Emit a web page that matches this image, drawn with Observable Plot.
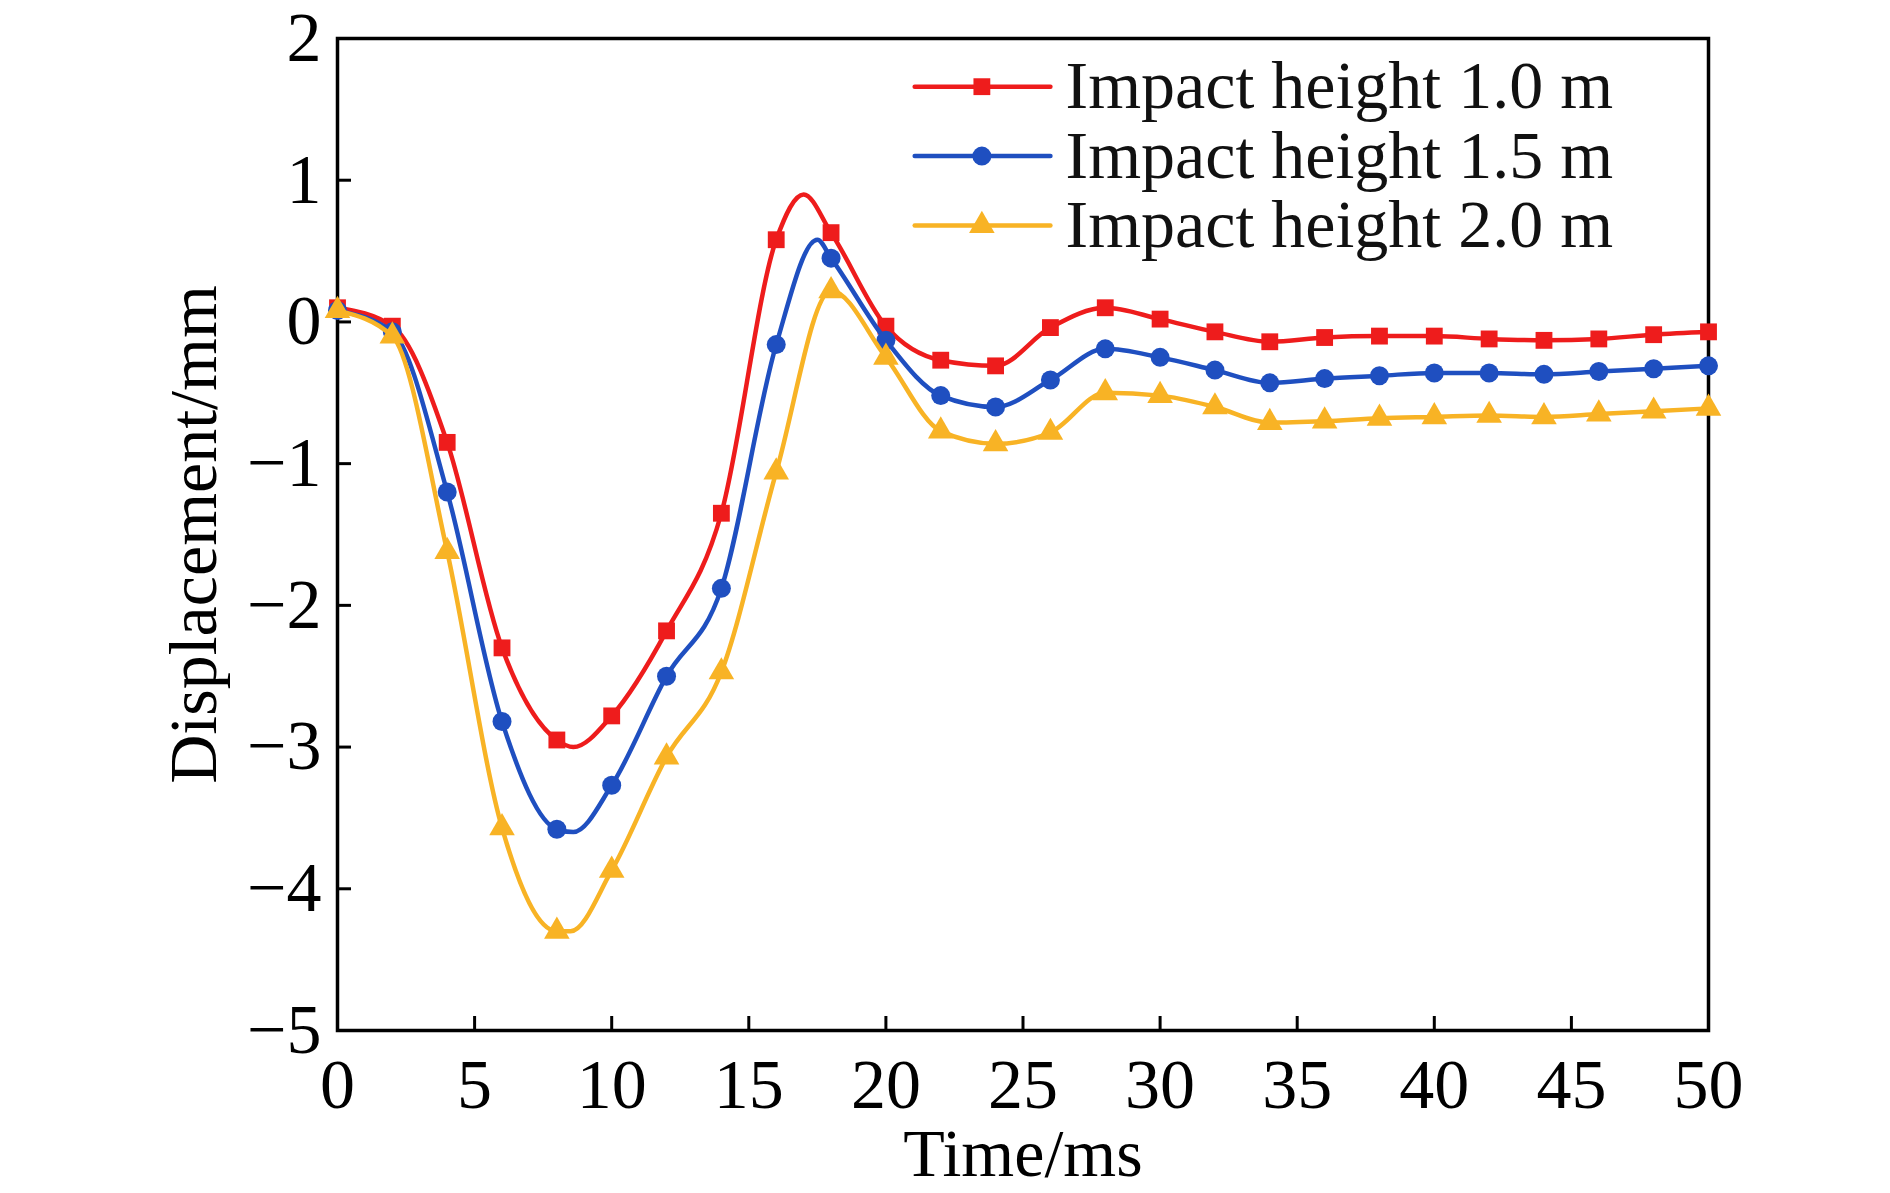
<!DOCTYPE html>
<html><head><meta charset="utf-8">
<script src="https://cdn.jsdelivr.net/npm/d3@7"></script>
<script src="https://cdn.jsdelivr.net/npm/@observablehq/plot@0.6"></script>
<style>body{margin:0;background:#fff}</style>
</head><body><div id="c"></div>
<script>
const times = [0,2,4,6,8,10,12,14,16,18,20,22,24,26,28,30,32,34,36,38,40,42,44,46,48,50];
const h10 = [0.1,-0.03,-0.85,-2.3,-2.95,-2.78,-2.18,-1.35,0.58,0.63,-0.03,-0.27,-0.31,-0.04,0.1,0.02,-0.07,-0.14,-0.11,-0.1,-0.1,-0.12,-0.13,-0.12,-0.09,-0.07];
const h15 = [0.08,-0.07,-1.2,-2.82,-3.58,-3.27,-2.5,-1.88,-0.16,0.45,-0.13,-0.52,-0.6,-0.41,-0.19,-0.25,-0.34,-0.43,-0.4,-0.38,-0.36,-0.36,-0.37,-0.35,-0.33,-0.31];
const h20 = [0.08,-0.1,-1.62,-3.57,-4.3,-3.87,-3.07,-2.47,-1.06,0.22,-0.25,-0.77,-0.86,-0.78,-0.5,-0.52,-0.6,-0.71,-0.7,-0.68,-0.67,-0.66,-0.67,-0.65,-0.63,-0.61];
const extraT = [[8.6,17],[8.6,17.5],[8.5,18]];
const extraV = [[-3.0,0.9],[-3.6,0.58],[-4.3,0.22]];
const names = ["Impact height 1.0 m","Impact height 1.5 m","Impact height 2.0 m"];
const colors = ["#ee1c1c","#1f4fc0","#f8b325"];
const symbols = ["square","circle","triangle"];
const legendY = [1.66,1.17,0.68];

const series = [h10,h15,h20];
const marks = [];
series.forEach((vals,i)=>{
  const pts = times.map((t,j)=>({t,v:vals[j]}));
  const line = pts.concat(extraT[i].map((t,k)=>({t,v:extraV[i][k]}))).sort((a,b)=>a.t-b.t);
  marks.push(Plot.line(line,{x:"t",y:"v",stroke:colors[i],strokeWidth:4.5,curve:"monotone-x"}));
  marks.push(Plot.dot(pts,{x:"t",y:"v",fill:colors[i],symbol:symbols[i],r:9.5}));
  marks.push(Plot.line([{t:21.05,v:legendY[i]},{t:26.0,v:legendY[i]}],{x:"t",y:"v",stroke:colors[i],strokeWidth:4.5}));
  marks.push(Plot.dot([{t:23.5,v:legendY[i]}],{x:"t",y:"v",fill:colors[i],symbol:symbols[i],r:9.5}));
  marks.push(Plot.text([names[i]],{x:26.55,y:legendY[i],text:d=>d,textAnchor:"start",fontSize:68,fill:"#111"}));
});

const chart = Plot.plot({
  width:1890,height:1193,
  marginLeft:337,marginRight:182,marginTop:38,marginBottom:163,
  style:{fontFamily:"Liberation Serif, serif",background:"#fff",color:"#000"},
  x:{domain:[0,50],ticks:d3.range(0,51,5)},
  y:{domain:[-5,2],ticks:d3.range(-5,3,1)},
  marks:[
    Plot.frame({stroke:"#000",strokeWidth:3.5}),
    Plot.axisX({ticks:d3.range(0,51,5),tickSize:-14,tickPadding:42,fontSize:70,tickFormat:d=>String(d),label:"Time/ms",labelArrow:"none",labelAnchor:"center",labelOffset:145,strokeWidth:3}),
    Plot.axisY({ticks:d3.range(-5,3,1),tickSize:-14,tickPadding:30,fontSize:70,tickFormat:d=>d<0?"\u2212"+Math.abs(d):String(d),label:"Displacement/mm",labelAnchor:"center",labelArrow:"none",labelOffset:170,strokeWidth:3}),
    ...marks
  ]
});
document.getElementById("c").appendChild(chart);
d3.select(chart).selectAll("[aria-label='x-axis label'] text, [aria-label='y-axis label'] text").style("font-size","68px");
</script></body></html>
